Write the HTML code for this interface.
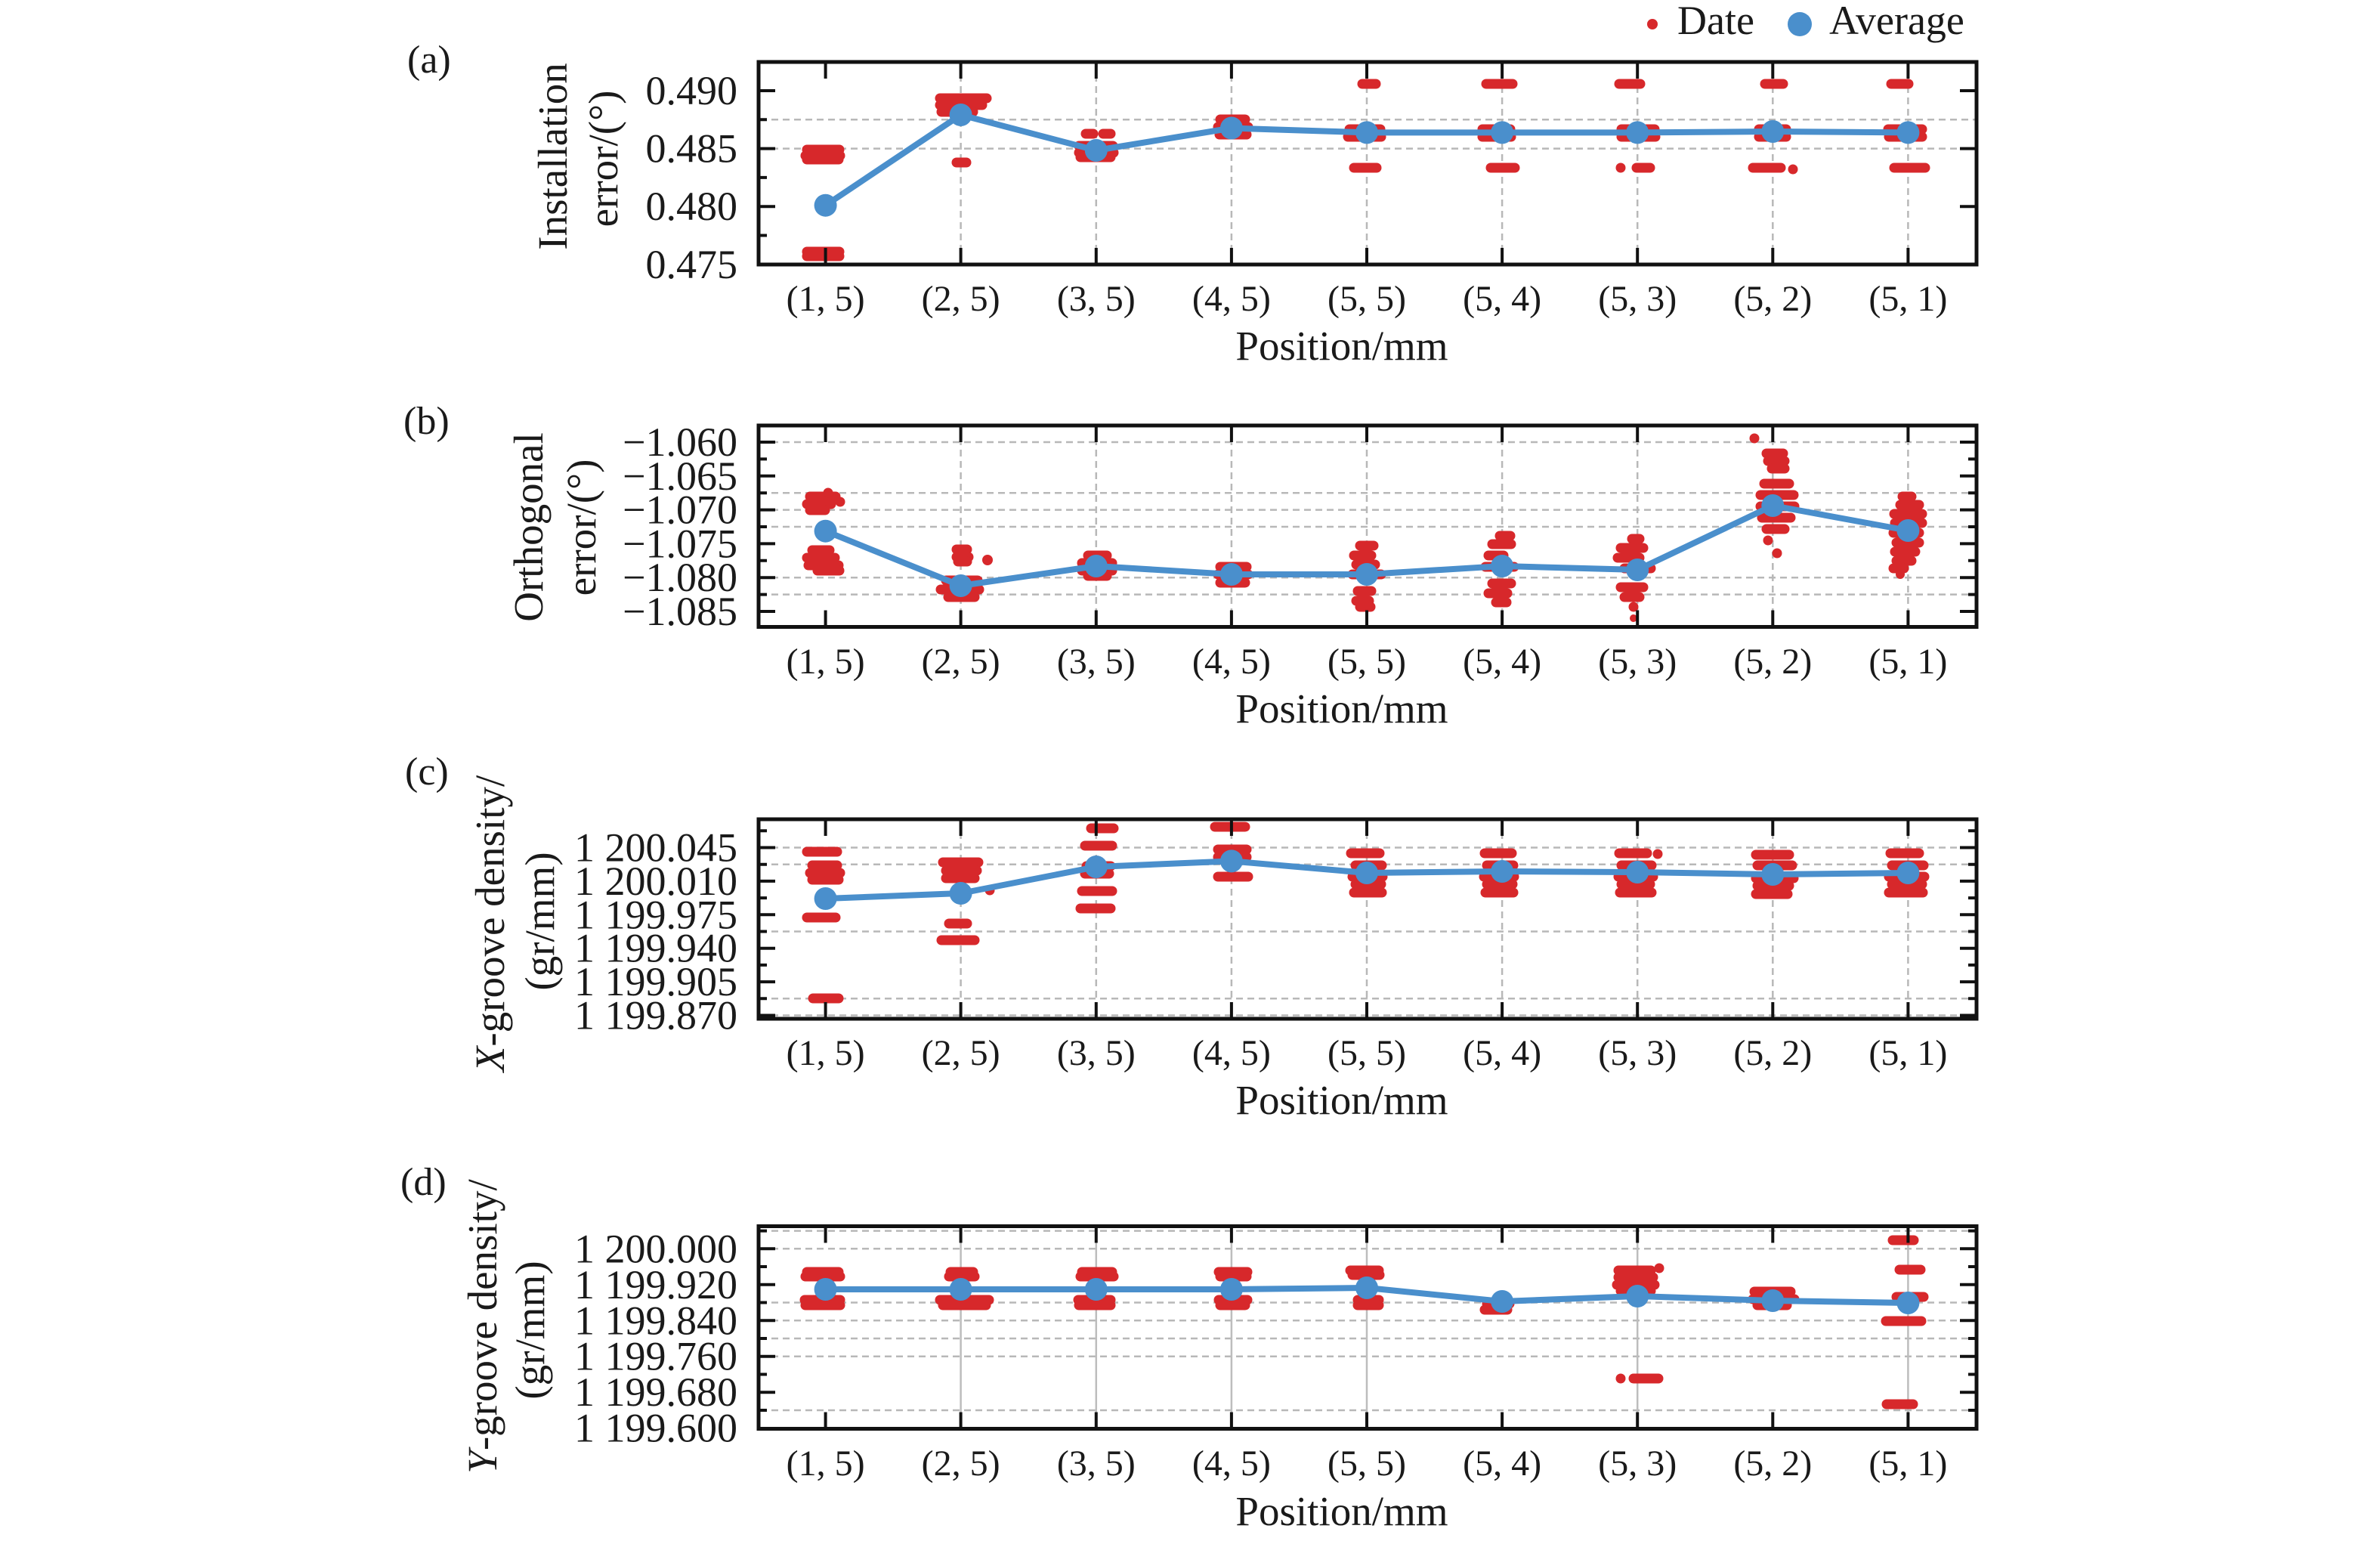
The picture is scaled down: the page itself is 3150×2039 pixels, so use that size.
<!DOCTYPE html>
<html>
<head>
<meta charset="utf-8">
<style>
html,body{margin:0;padding:0;background:#fff;}
svg{display:block;}
.r line{stroke:#d7282b;stroke-width:13;stroke-linecap:round;}
.r circle{fill:#d7282b;}
.grid{stroke:#b8b8b8;stroke-width:2.5;stroke-dasharray:9 6;fill:none;}
.vsol{stroke:#bdbdbd;stroke-width:2.5;fill:none;}
.avg{fill:none;stroke:#4a8fcc;stroke-width:8;stroke-linejoin:round;stroke-linecap:round;}
.m circle{fill:#4a8fcc;}
.tk{stroke:#111;stroke-width:4;fill:none;}
.box{fill:none;stroke:#111;stroke-width:5;}
text{font-family:"Liberation Serif",serif;fill:#1a1a1a;}
.tl{font-size:54px;text-anchor:end;}
.cl{font-size:48px;text-anchor:middle;}
.tt{font-size:55px;text-anchor:middle;}
.yl{font-size:55px;text-anchor:middle;}
.pl{font-size:52px;}
.lg{font-size:54px;}
</style>
</head>
<body>
<svg xmlns="http://www.w3.org/2000/svg" width="3150" height="2039" viewBox="0 0 3150 2039">
<rect width="3150" height="2039" fill="#fff"/>

<!-- Legend -->
<circle cx="2187" cy="32" r="7" fill="#d7282b"/>
<text class="lg" x="2220" y="45">Date</text>
<circle cx="2382" cy="32" r="16" fill="#4a8fcc"/>
<text class="lg" x="2421" y="45">Average</text>

<!-- ================= PANEL A ================= -->
<text class="pl" x="539" y="96">(a)</text>
<text class="yl" transform="translate(750,207) rotate(-90)">Installation</text>
<text class="yl" transform="translate(817,210) rotate(-90)">error/(°)</text>
<path class="grid" d="M1006 158.3H2614M1006 196.6H2614"/>
<path class="grid" d="M1271.6 84V348M1450.8 84V348M1629.9 84V348M1809 84V348M1988.1 84V348M2167.2 84V348M2346.3 84V348M2525.4 84V348"/>
<g class="r">
<line x1="1068" y1="198" x2="1111" y2="198"/><line x1="1066" y1="206" x2="1112" y2="206"/><line x1="1068" y1="211" x2="1110" y2="211"/>
<line x1="1068" y1="333" x2="1111" y2="333"/><line x1="1068" y1="339" x2="1111" y2="339"/>
<line x1="1244" y1="130" x2="1306" y2="130"/><line x1="1244" y1="139" x2="1300" y2="139"/><line x1="1246" y1="148" x2="1288" y2="148"/>
<line x1="1266" y1="215" x2="1279" y2="215"/>
<line x1="1437" y1="177" x2="1447" y2="177"/><line x1="1460" y1="177" x2="1470" y2="177"/>
<line x1="1428" y1="193" x2="1473" y2="193"/><line x1="1428" y1="202" x2="1474" y2="202"/><line x1="1430" y1="208" x2="1470" y2="208"/>
<line x1="1615" y1="158" x2="1648" y2="158"/><line x1="1612" y1="168" x2="1652" y2="168"/><line x1="1614" y1="178" x2="1650" y2="178"/>
<line x1="1803" y1="111" x2="1821" y2="111"/><line x1="1786" y1="171" x2="1827" y2="171"/><line x1="1784" y1="181" x2="1828" y2="181"/><line x1="1792" y1="222" x2="1822" y2="222"/>
<line x1="1967" y1="111" x2="2002" y2="111"/><line x1="1962" y1="171" x2="1999" y2="171"/><line x1="1962" y1="181" x2="2000" y2="181"/><line x1="1973" y1="222" x2="2005" y2="222"/>
<line x1="2143" y1="111" x2="2171" y2="111"/><line x1="2146" y1="171" x2="2190" y2="171"/><line x1="2146" y1="181" x2="2191" y2="181"/><circle cx="2145" cy="222" r="6.5"/><line x1="2166" y1="222" x2="2184" y2="222"/>
<line x1="2336" y1="111" x2="2360" y2="111"/><line x1="2328" y1="171" x2="2364" y2="171"/><line x1="2328" y1="181" x2="2364" y2="181"/><line x1="2320" y1="222" x2="2357" y2="222"/><circle cx="2373" cy="224" r="6.5"/>
<line x1="2503" y1="111" x2="2526" y2="111"/><line x1="2499" y1="171" x2="2544" y2="171"/><line x1="2500" y1="181" x2="2544" y2="181"/><line x1="2507" y1="222" x2="2548" y2="222"/>
</g>
<polyline class="avg" points="1092.6,271.7 1271.6,152 1450.8,199 1629.9,169.5 1809,175.4 1988.1,175.4 2167.2,175.4 2346.3,174 2525.4,175.4"/>
<g class="m">
<circle cx="1092.6" cy="271.7" r="15"/><circle cx="1271.6" cy="152" r="15"/><circle cx="1450.8" cy="199" r="15"/><circle cx="1629.9" cy="169.5" r="15"/><circle cx="1809" cy="175.4" r="15"/><circle cx="1988.1" cy="175.4" r="15"/><circle cx="2167.2" cy="175.4" r="15"/><circle cx="2346.3" cy="174" r="15"/><circle cx="2525.4" cy="175.4" r="15"/>
</g>
<path class="tk" d="M1092.6 82v22M1271.6 82v22M1450.8 82v22M1629.9 82v22M1809 82v22M1988.1 82v22M2167.2 82v22M2346.3 82v22M2525.4 82v22M1092.6 350v-22M1271.6 350v-22M1450.8 350v-22M1629.9 350v-22M1809 350v-22M1988.1 350v-22M2167.2 350v-22M2346.3 350v-22M2525.4 350v-22M1004 120h22M1004 196.6h22M1004 273.2h22M1004 158.3h11M1004 234.9h11M1004 311.5h11M2616 120h-22M2616 196.6h-22M2616 273.2h-22"/>
<rect class="box" x="1004" y="82" width="1612" height="268"/>
<text class="tl" x="976" y="138">0.490</text>
<text class="tl" x="976" y="214.6">0.485</text>
<text class="tl" x="976" y="291.2">0.480</text>
<text class="tl" x="976" y="367.8">0.475</text>
<text class="cl" x="1092.6" y="411">(1, 5)</text><text class="cl" x="1271.6" y="411">(2, 5)</text><text class="cl" x="1450.8" y="411">(3, 5)</text><text class="cl" x="1629.9" y="411">(4, 5)</text><text class="cl" x="1809" y="411">(5, 5)</text><text class="cl" x="1988.1" y="411">(5, 4)</text><text class="cl" x="2167.2" y="411">(5, 3)</text><text class="cl" x="2346.3" y="411">(5, 2)</text><text class="cl" x="2525.4" y="411">(5, 1)</text>
<text class="tt" x="1776" y="476">Position/mm</text>

<!-- ================= PANEL B ================= -->
<text class="pl" x="534" y="574">(b)</text>
<text class="yl" transform="translate(718,697.5) rotate(-90)">Orthogonal</text>
<text class="yl" transform="translate(788,698) rotate(-90)">error/(°)</text>
<path class="grid" d="M1006 585H2614M1006 652.2H2614M1006 674.6H2614M1006 697H2614M1006 764.2H2614M1006 786.6H2614"/>
<path class="grid" d="M1271.6 565V827M1450.8 565V827M1629.9 565V827M1809 565V827M1988.1 565V827M2167.2 565V827M2346.3 565V827M2525.4 565V827"/>
<g class="r">
<line x1="1072" y1="657" x2="1106" y2="657"/><line x1="1068" y1="667" x2="1100" y2="667"/><line x1="1072" y1="675" x2="1092" y2="675"/><circle cx="1112" cy="664" r="6.5"/><circle cx="1096" cy="652" r="6.5"/>
<line x1="1075" y1="728" x2="1098" y2="728"/><line x1="1068" y1="738" x2="1105" y2="738"/><line x1="1070" y1="748" x2="1110" y2="748"/><line x1="1082" y1="755" x2="1111" y2="755"/>
<line x1="1266" y1="727" x2="1280" y2="727"/><line x1="1266" y1="737" x2="1282" y2="737"/><line x1="1268" y1="743" x2="1280" y2="743"/><circle cx="1307" cy="741" r="7"/>
<line x1="1252" y1="768" x2="1294" y2="768"/><line x1="1245" y1="780" x2="1296" y2="780"/><line x1="1255" y1="790" x2="1290" y2="790"/>
<line x1="1440" y1="735" x2="1465" y2="735"/><line x1="1432" y1="745" x2="1472" y2="745"/><line x1="1432" y1="755" x2="1472" y2="755"/><line x1="1440" y1="762" x2="1465" y2="762"/>
<line x1="1615" y1="750" x2="1650" y2="750"/><line x1="1612" y1="760" x2="1652" y2="760"/><line x1="1615" y1="771" x2="1648" y2="771"/>
<line x1="1800" y1="722" x2="1818" y2="722"/><line x1="1792" y1="735" x2="1815" y2="735"/><line x1="1795" y1="747" x2="1820" y2="747"/><line x1="1790" y1="760" x2="1828" y2="760"/><line x1="1797" y1="782" x2="1815" y2="782"/><line x1="1795" y1="795" x2="1812" y2="795"/><line x1="1800" y1="803" x2="1814" y2="803"/>
<line x1="1985" y1="709" x2="1999" y2="709"/><line x1="1975" y1="720" x2="2000" y2="720"/><line x1="1970" y1="735" x2="1990" y2="735"/><line x1="1966" y1="750" x2="2004" y2="750"/><line x1="1975" y1="772" x2="2000" y2="772"/><line x1="1970" y1="785" x2="1995" y2="785"/><line x1="1980" y1="797" x2="1994" y2="797"/>
<line x1="2160" y1="713" x2="2170" y2="713"/><line x1="2145" y1="725" x2="2175" y2="725"/><line x1="2141" y1="738" x2="2170" y2="738"/><line x1="2150" y1="752" x2="2185" y2="752"/><line x1="2145" y1="777" x2="2175" y2="777"/><line x1="2150" y1="790" x2="2170" y2="790"/><circle cx="2162" cy="803" r="6.5"/><circle cx="2162" cy="818" r="5"/>
<circle cx="2322" cy="580" r="6.5"/><line x1="2338" y1="600" x2="2360" y2="600"/><line x1="2340" y1="610" x2="2362" y2="610"/><line x1="2345" y1="620" x2="2362" y2="620"/>
<line x1="2335" y1="640" x2="2368" y2="640"/><line x1="2330" y1="655" x2="2374" y2="655"/><line x1="2330" y1="670" x2="2375" y2="670"/><line x1="2332" y1="685" x2="2370" y2="685"/><line x1="2338" y1="700" x2="2362" y2="700"/><circle cx="2340" cy="715" r="6.5"/><circle cx="2352" cy="732" r="6.5"/>
<line x1="2518" y1="657" x2="2530" y2="657"/><line x1="2515" y1="668" x2="2540" y2="668"/><line x1="2507" y1="680" x2="2544" y2="680"/><line x1="2508" y1="692" x2="2544" y2="692"/><line x1="2506" y1="705" x2="2540" y2="705"/><line x1="2510" y1="718" x2="2540" y2="718"/><line x1="2508" y1="730" x2="2535" y2="730"/><line x1="2510" y1="742" x2="2530" y2="742"/><line x1="2506" y1="752" x2="2520" y2="752"/><circle cx="2515" cy="760" r="6"/>
</g>
<polyline class="avg" points="1092.6,702.7 1271.6,775 1450.8,749 1629.9,760 1809,760 1988.1,749 2167.2,754 2346.3,669 2525.4,702"/>
<g class="m">
<circle cx="1092.6" cy="702.7" r="15"/><circle cx="1271.6" cy="775" r="15"/><circle cx="1450.8" cy="749" r="15"/><circle cx="1629.9" cy="760" r="15"/><circle cx="1809" cy="760" r="15"/><circle cx="1988.1" cy="749" r="15"/><circle cx="2167.2" cy="754" r="15"/><circle cx="2346.3" cy="669" r="15"/><circle cx="2525.4" cy="702" r="15"/>
</g>
<path class="tk" d="M1092.6 563v22M1271.6 563v22M1450.8 563v22M1629.9 563v22M1809 563v22M1988.1 563v22M2167.2 563v22M2346.3 563v22M2525.4 563v22M1092.6 829.5v-22M1271.6 829.5v-22M1450.8 829.5v-22M1629.9 829.5v-22M1809 829.5v-22M1988.1 829.5v-22M2167.2 829.5v-22M2346.3 829.5v-22M2525.4 829.5v-22M1004 585h22M1004 629.8h22M1004 674.6h22M1004 719.4h22M1004 764.2h22M1004 809h22M1004 607.4h11M1004 652.2h11M1004 697h11M1004 741.8h11M1004 786.6h11M2616 585h-22M2616 629.8h-22M2616 674.6h-22M2616 719.4h-22M2616 764.2h-22M2616 809h-22M2616 607.4h-11M2616 652.2h-11M2616 697h-11M2616 741.8h-11M2616 786.6h-11"/>
<rect class="box" x="1004" y="563" width="1612" height="266.5"/>
<text class="tl" x="976" y="603">−1.060</text>
<text class="tl" x="976" y="647.8">−1.065</text>
<text class="tl" x="976" y="692.6">−1.070</text>
<text class="tl" x="976" y="737.4">−1.075</text>
<text class="tl" x="976" y="782.2">−1.080</text>
<text class="tl" x="976" y="827">−1.085</text>
<text class="cl" x="1092.6" y="891">(1, 5)</text><text class="cl" x="1271.6" y="891">(2, 5)</text><text class="cl" x="1450.8" y="891">(3, 5)</text><text class="cl" x="1629.9" y="891">(4, 5)</text><text class="cl" x="1809" y="891">(5, 5)</text><text class="cl" x="1988.1" y="891">(5, 4)</text><text class="cl" x="2167.2" y="891">(5, 3)</text><text class="cl" x="2346.3" y="891">(5, 2)</text><text class="cl" x="2525.4" y="891">(5, 1)</text>
<text class="tt" x="1776" y="956">Position/mm</text>

<!-- ================= PANEL C ================= -->
<text class="pl" x="536" y="1038">(c)</text>
<text class="yl" transform="translate(667,1222) rotate(-90)"><tspan font-style="italic">X</tspan>-groove density/</text>
<text class="yl" transform="translate(733,1219) rotate(-90)">(gr/mm)</text>
<path class="grid" d="M1006 1121.5H2614M1006 1143.7H2614M1006 1232.5H2614M1006 1321.3H2614M1006 1343.5H2614"/>
<path class="grid" d="M1271.6 1086V1346M1450.8 1086V1346M1629.9 1086V1346M1809 1086V1346M1988.1 1086V1346M2167.2 1086V1346M2346.3 1086V1346M2525.4 1086V1346"/>
<g class="r">
<line x1="1068" y1="1127" x2="1108" y2="1127"/><line x1="1075" y1="1145" x2="1108" y2="1145"/><line x1="1072" y1="1155" x2="1112" y2="1155"/><line x1="1075" y1="1164" x2="1110" y2="1164"/><line x1="1068" y1="1214" x2="1106" y2="1214"/><line x1="1076" y1="1321" x2="1110" y2="1321"/>
<line x1="1248" y1="1141" x2="1295" y2="1141"/><line x1="1252" y1="1152" x2="1293" y2="1152"/><line x1="1252" y1="1162" x2="1290" y2="1162"/><circle cx="1310" cy="1178" r="6.5"/><line x1="1256" y1="1222" x2="1280" y2="1222"/><line x1="1246" y1="1244" x2="1290" y2="1244"/>
<line x1="1444" y1="1096" x2="1474" y2="1096"/><line x1="1436" y1="1119" x2="1472" y2="1119"/><line x1="1438" y1="1146" x2="1470" y2="1146"/><line x1="1436" y1="1156" x2="1468" y2="1156"/><line x1="1432" y1="1179" x2="1472" y2="1179"/><line x1="1430" y1="1202" x2="1470" y2="1202"/>
<line x1="1608" y1="1094" x2="1648" y2="1094"/><line x1="1612" y1="1124" x2="1650" y2="1124"/><line x1="1612" y1="1134" x2="1650" y2="1134"/><line x1="1612" y1="1160" x2="1652" y2="1160"/>
<line x1="1788" y1="1129" x2="1826" y2="1129"/><line x1="1794" y1="1145" x2="1829" y2="1145"/><line x1="1790" y1="1160" x2="1830" y2="1160"/><line x1="1794" y1="1170" x2="1828" y2="1170"/><line x1="1792" y1="1181" x2="1829" y2="1181"/>
<line x1="1965" y1="1129" x2="2001" y2="1129"/><line x1="1968" y1="1145" x2="2003" y2="1145"/><line x1="1964" y1="1160" x2="2004" y2="1160"/><line x1="1968" y1="1170" x2="2002" y2="1170"/><line x1="1966" y1="1181" x2="2003" y2="1181"/>
<line x1="2143" y1="1129" x2="2180" y2="1129"/><line x1="2146" y1="1145" x2="2186" y2="1145"/><line x1="2142" y1="1160" x2="2188" y2="1160"/><line x1="2146" y1="1170" x2="2184" y2="1170"/><line x1="2144" y1="1181" x2="2186" y2="1181"/><circle cx="2194" cy="1130" r="6.5"/>
<line x1="2324" y1="1131" x2="2368" y2="1131"/><line x1="2326" y1="1145" x2="2372" y2="1145"/><line x1="2324" y1="1162" x2="2374" y2="1162"/><line x1="2326" y1="1172" x2="2368" y2="1172"/><line x1="2324" y1="1183" x2="2366" y2="1183"/>
<line x1="2502" y1="1129" x2="2540" y2="1129"/><line x1="2504" y1="1145" x2="2546" y2="1145"/><line x1="2500" y1="1160" x2="2547" y2="1160"/><line x1="2504" y1="1170" x2="2544" y2="1170"/><line x1="2500" y1="1181" x2="2545" y2="1181"/>
</g>
<polyline class="avg" points="1092.6,1189 1271.6,1182 1450.8,1147 1629.9,1139.4 1809,1155 1988.1,1153 2167.2,1154 2346.3,1157 2525.4,1155"/>
<g class="m">
<circle cx="1092.6" cy="1189" r="15"/><circle cx="1271.6" cy="1182" r="15"/><circle cx="1450.8" cy="1147" r="15"/><circle cx="1629.9" cy="1139.4" r="15"/><circle cx="1809" cy="1155" r="15"/><circle cx="1988.1" cy="1153" r="15"/><circle cx="2167.2" cy="1154" r="15"/><circle cx="2346.3" cy="1157" r="15"/><circle cx="2525.4" cy="1155" r="15"/>
</g>
<path class="tk" d="M1092.6 1084v22M1271.6 1084v22M1450.8 1084v22M1629.9 1084v22M1809 1084v22M1988.1 1084v22M2167.2 1084v22M2346.3 1084v22M2525.4 1084v22M1092.6 1348v-22M1271.6 1348v-22M1450.8 1348v-22M1629.9 1348v-22M1809 1348v-22M1988.1 1348v-22M2167.2 1348v-22M2346.3 1348v-22M2525.4 1348v-22M1004 1121.5h22M1004 1165.9h22M1004 1210.3h22M1004 1254.7h22M1004 1299.1h22M1004 1343.5h22M1004 1099.3h11M1004 1143.7h11M1004 1188.1h11M1004 1232.5h11M1004 1276.9h11M1004 1321.3h11M2616 1121.5h-22M2616 1165.9h-22M2616 1210.3h-22M2616 1254.7h-22M2616 1299.1h-22M2616 1343.5h-22M2616 1099.3h-11M2616 1143.7h-11M2616 1188.1h-11M2616 1232.5h-11M2616 1276.9h-11M2616 1321.3h-11"/>
<rect class="box" x="1004" y="1084" width="1612" height="264"/>
<text class="tl" x="976" y="1139.5">1 200.045</text>
<text class="tl" x="976" y="1183.9">1 200.010</text>
<text class="tl" x="976" y="1228.3">1 199.975</text>
<text class="tl" x="976" y="1272.7">1 199.940</text>
<text class="tl" x="976" y="1317.1">1 199.905</text>
<text class="tl" x="976" y="1361.5">1 199.870</text>
<text class="cl" x="1092.6" y="1409">(1, 5)</text><text class="cl" x="1271.6" y="1409">(2, 5)</text><text class="cl" x="1450.8" y="1409">(3, 5)</text><text class="cl" x="1629.9" y="1409">(4, 5)</text><text class="cl" x="1809" y="1409">(5, 5)</text><text class="cl" x="1988.1" y="1409">(5, 4)</text><text class="cl" x="2167.2" y="1409">(5, 3)</text><text class="cl" x="2346.3" y="1409">(5, 2)</text><text class="cl" x="2525.4" y="1409">(5, 1)</text>
<text class="tt" x="1776" y="1474">Position/mm</text>

<!-- ================= PANEL D ================= -->
<text class="pl" x="530" y="1581">(d)</text>
<text class="yl" transform="translate(657,1755) rotate(-90)"><tspan font-style="italic">Y</tspan>-groove density/</text>
<text class="yl" transform="translate(720,1760) rotate(-90)">(gr/mm)</text>
<path class="grid" d="M1006 1628.6H2614M1006 1652.3H2614M1006 1723.5H2614M1006 1747.3H2614M1006 1771H2614M1006 1794.7H2614M1006 1866H2614"/>
<path class="vsol" d="M1271.6 1625V1888M1450.8 1625V1888M1629.9 1625V1888M1809 1625V1888M2167.2 1625V1888M2525.4 1625V1888"/>
<g class="r">
<line x1="1068" y1="1683" x2="1110" y2="1683"/><line x1="1066" y1="1689" x2="1112" y2="1689"/><line x1="1065" y1="1720" x2="1112" y2="1720"/><line x1="1066" y1="1727" x2="1112" y2="1727"/>
<line x1="1258" y1="1683" x2="1288" y2="1683"/><line x1="1256" y1="1689" x2="1290" y2="1689"/><line x1="1244" y1="1720" x2="1309" y2="1720"/><line x1="1248" y1="1727" x2="1305" y2="1727"/>
<line x1="1432" y1="1683" x2="1472" y2="1683"/><line x1="1430" y1="1689" x2="1474" y2="1689"/><line x1="1427" y1="1720" x2="1470" y2="1720"/><line x1="1428" y1="1727" x2="1470" y2="1727"/>
<line x1="1613" y1="1683" x2="1651" y2="1683"/><line x1="1615" y1="1689" x2="1650" y2="1689"/><line x1="1613" y1="1720" x2="1651" y2="1720"/><line x1="1615" y1="1727" x2="1648" y2="1727"/>
<line x1="1787" y1="1681" x2="1825" y2="1681"/><line x1="1790" y1="1687" x2="1826" y2="1687"/><line x1="1797" y1="1720" x2="1825" y2="1720"/><line x1="1797" y1="1727" x2="1825" y2="1727"/>
<line x1="1968" y1="1725" x2="1998" y2="1725"/><line x1="1965" y1="1733" x2="1995" y2="1733"/>
<line x1="2142" y1="1681" x2="2185" y2="1681"/><line x1="2142" y1="1690" x2="2188" y2="1690"/><line x1="2140" y1="1700" x2="2190" y2="1700"/><line x1="2145" y1="1708" x2="2185" y2="1708"/><circle cx="2196" cy="1678" r="6.5"/>
<circle cx="2145" cy="1824" r="6.5"/><line x1="2162" y1="1824" x2="2195" y2="1824"/>
<line x1="2322" y1="1709" x2="2370" y2="1709"/><line x1="2320" y1="1719" x2="2375" y2="1719"/><line x1="2326" y1="1727" x2="2365" y2="1727"/>
<line x1="2505" y1="1641" x2="2533" y2="1641"/><line x1="2514" y1="1680" x2="2542" y2="1680"/><line x1="2510" y1="1716" x2="2546" y2="1716"/><line x1="2496" y1="1748" x2="2543" y2="1748"/><line x1="2497" y1="1858" x2="2532" y2="1858"/>
</g>
<polyline class="avg" points="1092.6,1706 1271.6,1706 1450.8,1706 1629.9,1706 1809,1704 1988.1,1722 2167.2,1715 2346.3,1721 2525.4,1724"/>
<g class="m">
<circle cx="1092.6" cy="1706" r="15"/><circle cx="1271.6" cy="1706" r="15"/><circle cx="1450.8" cy="1706" r="15"/><circle cx="1629.9" cy="1706" r="15"/><circle cx="1809" cy="1704" r="15"/><circle cx="1988.1" cy="1722" r="15"/><circle cx="2167.2" cy="1715" r="15"/><circle cx="2346.3" cy="1721" r="15"/><circle cx="2525.4" cy="1724" r="15"/>
</g>
<path class="tk" d="M1092.6 1622.5v22M1271.6 1622.5v22M1450.8 1622.5v22M1629.9 1622.5v22M1809 1622.5v22M1988.1 1622.5v22M2167.2 1622.5v22M2346.3 1622.5v22M2525.4 1622.5v22M1092.6 1890.5v-22M1271.6 1890.5v-22M1450.8 1890.5v-22M1629.9 1890.5v-22M1809 1890.5v-22M1988.1 1890.5v-22M2167.2 1890.5v-22M2346.3 1890.5v-22M2525.4 1890.5v-22M1004 1652.3h22M1004 1699.8h22M1004 1747.3h22M1004 1794.7h22M1004 1842.2h22M1004 1628.6h11M1004 1676h11M1004 1723.5h11M1004 1771h11M1004 1818.5h11M1004 1866h11M2616 1652.3h-22M2616 1699.8h-22M2616 1747.3h-22M2616 1794.7h-22M2616 1842.2h-22M2616 1628.6h-11M2616 1676h-11M2616 1723.5h-11M2616 1771h-11M2616 1818.5h-11M2616 1866h-11"/>
<rect class="box" x="1004" y="1622.5" width="1612" height="268"/>
<text class="tl" x="976" y="1670.3">1 200.000</text>
<text class="tl" x="976" y="1717.8">1 199.920</text>
<text class="tl" x="976" y="1765.3">1 199.840</text>
<text class="tl" x="976" y="1812.7">1 199.760</text>
<text class="tl" x="976" y="1860.2">1 199.680</text>
<text class="tl" x="976" y="1907.7">1 199.600</text>
<text class="cl" x="1092.6" y="1952">(1, 5)</text><text class="cl" x="1271.6" y="1952">(2, 5)</text><text class="cl" x="1450.8" y="1952">(3, 5)</text><text class="cl" x="1629.9" y="1952">(4, 5)</text><text class="cl" x="1809" y="1952">(5, 5)</text><text class="cl" x="1988.1" y="1952">(5, 4)</text><text class="cl" x="2167.2" y="1952">(5, 3)</text><text class="cl" x="2346.3" y="1952">(5, 2)</text><text class="cl" x="2525.4" y="1952">(5, 1)</text>
<text class="tt" x="1776" y="2018">Position/mm</text>
</svg>
</body>
</html>
